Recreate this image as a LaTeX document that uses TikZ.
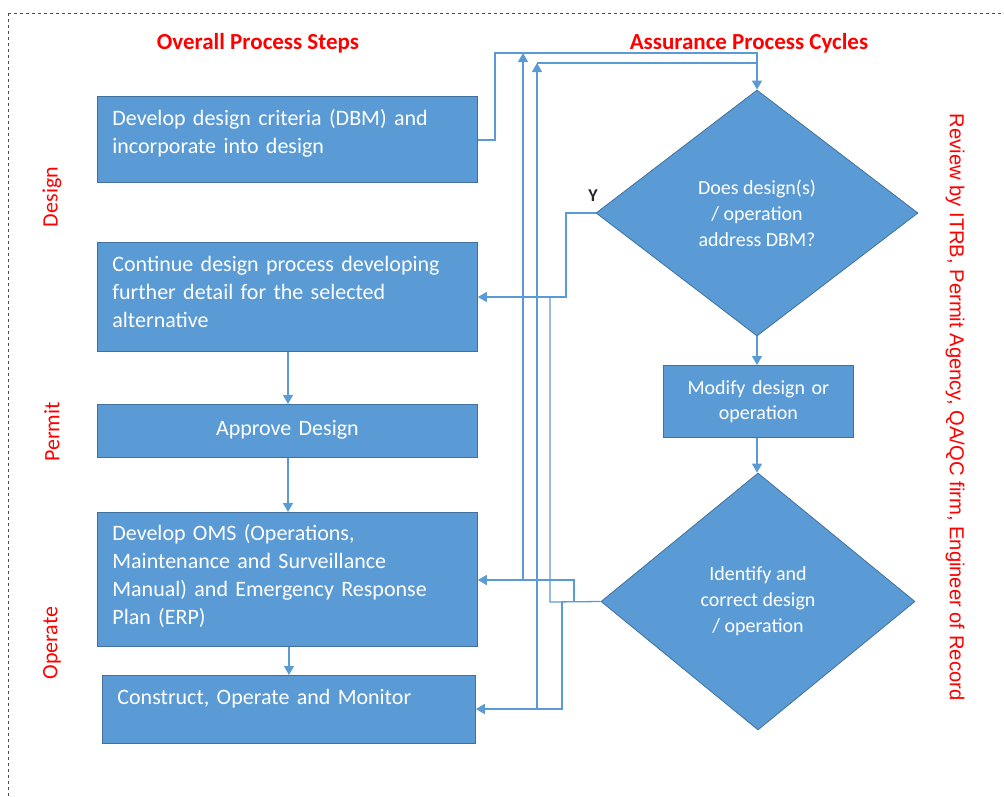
\documentclass[tikz,border=0pt]{standalone}
\usepackage{fontspec}
\setmainfont{Carlito}
\newfontfamily\arialfont{Liberation Sans}
\usetikzlibrary{shapes.geometric,arrows.meta}
\definecolor{boxblue}{HTML}{5B9BD5}
\definecolor{boxedge}{HTML}{41719C}
\definecolor{redtxt}{HTML}{FF0000}
\begin{document}
\begin{tikzpicture}[x=1pt,y=-1pt,
  box/.style={draw=boxedge, fill=boxblue, line width=0.8pt, text=white,
    font=\fontsize{22}{28}\selectfont, anchor=north west, inner xsep=15pt, inner ysep=0pt,
    align=left},
  cbox/.style={box, align=center},
  dia/.style={diamond, draw=boxedge, fill=boxblue, line width=0.8pt, text=white,
    font=\fontsize{20}{26}\selectfont, align=center, inner sep=0pt},
  conn/.style={draw=boxblue, line width=1.3pt},
  arr/.style={conn, -{Triangle[width=10pt,length=9pt]}},
  redlbl/.style={text=redtxt, font=\fontsize{22}{26}\selectfont},
  title/.style={text=redtxt, font=\fontsize{23}{26}\selectfont\bfseries}
]
\useasboundingbox (0,0) rectangle (1004,796);
\draw[dashed, draw=black!70, line width=0.8pt] (8,13) -- (1010,13);
\draw[dashed, draw=black!70, line width=0.8pt] (8,13) -- (8,800);

% titles
\node[title] (t1) at (258,43) {Overall Process Steps};
\node[title] (t2) at (749,43) {Assurance Process Cycles};
\node[redlbl, rotate=90] (ld) at (52,197) {Design};
\node[redlbl, rotate=90] (lp) at (52,432) {Permit};
\node[redlbl, rotate=90] (lo) at (52,643) {Operate};
\node[text=redtxt, font=\arialfont\fontsize{20.2}{24}\selectfont, rotate=-90] (rev) at (955,407)
  {Review by ITRB, Permit Agency, QA/QC firm, Engineer of Record};

% boxes
\node[box, minimum width=380pt, minimum height=86pt, text width=350pt] (dbm) at (97,96)
  {Develop design criteria (DBM) and\\incorporate into design\par\vspace*{12pt}};
\node[box, minimum width=380pt, minimum height=109pt, text width=350pt] (cont) at (97,242)
  {Continue design process developing\\further detail for the selected\\alternative\par\vspace*{10pt}};
\node[cbox, minimum width=380pt, minimum height=53pt, text width=350pt] (app) at (97,404)
  {Approve Design\par\vspace*{3pt}};
\node[box, minimum width=380pt, minimum height=134pt, text width=350pt] (oms) at (97,512)
  {Develop OMS (Operations,\\Maintenance and Surveillance\\Manual) and Emergency Response\\Plan (ERP)\par\vspace*{6pt}};
\node[box, minimum width=373pt, minimum height=68pt, text width=343pt, inner xsep=14pt] (con) at (102,675)
  {Construct, Operate and Monitor\par\vspace*{21pt}};

% diamonds
\node[dia, minimum width=322pt, minimum height=246pt] (d1) at (757,213) {Does design(s)\\/ operation\\address DBM?};
\node[dia, minimum width=314pt, minimum height=257pt] (d2) at (758,601.5) {Identify and\\correct design\\/ operation};
\node[cbox, font=\fontsize{20}{25}\selectfont, minimum width=190pt, minimum height=72pt,
  inner xsep=4pt, text width=182pt] (mod) at (663,365) {Modify design or\\operation};

\node[font=\fontsize{18}{20}\selectfont\bfseries, text=black!85] (y) at (593,196) {Y};

% vertical flow arrows
\draw[arr] (cont.south -| 288,0) -- (app.north -| 288,0);
\draw[arr] (app.south -| 288,0) -- (oms.north -| 288,0);
\draw[arr] (oms.south -| 289,0) -- (con.north -| 289,0);
\draw[arr] (d1.south) -- (mod.north -| d1.south);
\draw[arr] (mod.south -| d1.south) -- (d2.north -| d1.south);

% coordinates for routing
\coordinate (a1) at (495,140);
\coordinate (a2) at (495,53);
\coordinate (a3) at (757,53);
\coordinate (b1) at (523,580);
\coordinate (b2) at (523,53);
\coordinate (c1) at (537,709);
\coordinate (c2) at (537,63);
\coordinate (c3) at (757,63);
\coordinate (e1) at (566,213);
\coordinate (e2) at (566,297);
\coordinate (f1) at (550,297);
\coordinate (f2) at (550,602);
\coordinate (g1) at (574,602);
\coordinate (g2) at (574,580);
\coordinate (h1) at (562,602);
\coordinate (h2) at (562,709);

% top feedback into diamond 1
\draw[arr] (dbm.east |- a1) -- (a1) -- (a2) -- (a3) -- (d1.north);
\draw[arr] (b1) -- (b2);
\draw[arr] (c1) -- (c2);
\draw[conn] (c2) -- (c3);

% Y branch to continue box
\draw[arr] (d1.west) -- (e1) -- (e2) -- (cont.east |- e2);
% diamond 2 branches
\draw[conn] (d2.west) -- (f2) -- (f1) -- (e2);
\draw[arr] (g1) -- (g2) -- (oms.east |- g2);
\draw[arr] (h1) -- (h2) -- (con.east |- h2);
\end{tikzpicture}
\end{document}
